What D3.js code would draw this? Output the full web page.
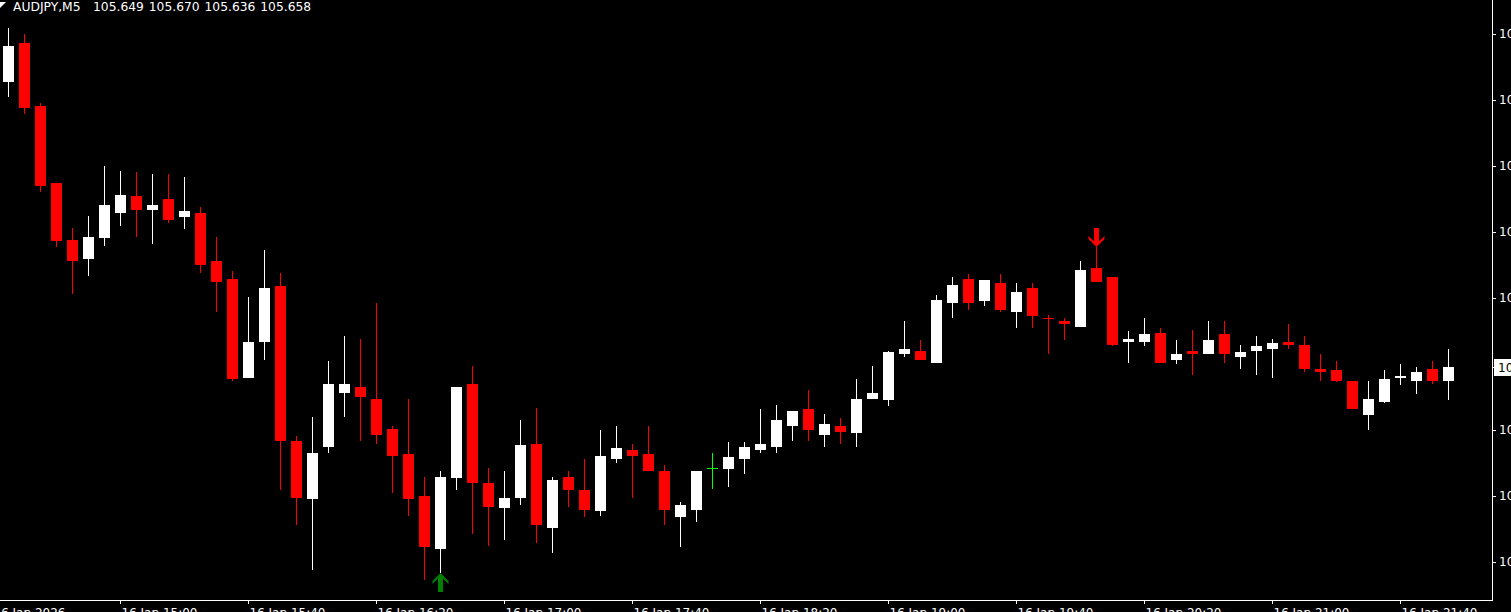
<!DOCTYPE html>
<html>
<head>
<meta charset="utf-8">
<script src="https://cdn.jsdelivr.net/npm/d3@7"></script>
<style>
  html, body { margin: 0; padding: 0; background: #000; overflow: hidden; }
  svg { display: block; }
  text { font-family: "DejaVu Sans", sans-serif; font-size: 12px; }
</style>
</head>
<body>
<div id="chart"></div>
<script>
/* AUDJPY M5 candles, 16 Jan 2026 */

var symbolTitle = "AUDJPY,M5";

// OHLC per bar, bar 0 = 14:25, one bar per 5 minutes
var opens = [105.848, 105.874, 105.832, 105.781, 105.743, 105.730, 105.744, 105.761, 105.772, 105.763,
             105.770, 105.758, 105.761, 105.729, 105.717, 105.651, 105.675, 105.712, 105.609, 105.570,
             105.605, 105.641, 105.645, 105.637, 105.617, 105.600, 105.572, 105.537, 105.584, 105.647,
             105.581, 105.564, 105.571, 105.607, 105.551, 105.585, 105.576, 105.562, 105.597, 105.603,
             105.600, 105.589, 105.558, 105.563, 105.591, 105.590, 105.597, 105.603, 105.605, 105.619,
             105.630, 105.613, 105.619, 105.614, 105.637, 105.636, 105.667, 105.669, 105.661, 105.701,
             105.717, 105.702, 105.714, 105.695, 105.711, 105.691, 105.689, 105.685, 105.724, 105.718,
             105.675, 105.675, 105.681, 105.663, 105.669, 105.667, 105.680, 105.665, 105.669, 105.670,
             105.675, 105.673, 105.657, 105.656, 105.649, 105.626, 105.635, 105.651, 105.649, 105.657,
             105.649];
var highs = [105.884, 105.880, 105.834, 105.781, 105.751, 105.759, 105.792, 105.789, 105.788, 105.787,
             105.787, 105.785, 105.765, 105.745, 105.722, 105.705, 105.736, 105.721, 105.612, 105.625,
             105.662, 105.679, 105.677, 105.701, 105.619, 105.637, 105.585, 105.589, 105.645, 105.659,
             105.591, 105.589, 105.623, 105.631, 105.585, 105.589, 105.597, 105.616, 105.619, 105.607,
             105.619, 105.593, 105.568, 105.589, 105.601, 105.608, 105.608, 105.630, 105.633, 105.629,
             105.643, 105.627, 105.624, 105.650, 105.659, 105.669, 105.689, 105.676, 105.706, 105.718,
             105.720, 105.716, 105.720, 105.714, 105.714, 105.693, 105.691, 105.729, 105.738, 105.718,
             105.682, 105.691, 105.684, 105.676, 105.683, 105.689, 105.689, 105.673, 105.679, 105.677,
             105.687, 105.679, 105.667, 105.662, 105.649, 105.649, 105.656, 105.660, 105.658, 105.662,
             105.670];
var lows = [105.838, 105.827, 105.775, 105.738, 105.707, 105.719, 105.739, 105.752, 105.745, 105.740,
            105.754, 105.750, 105.721, 105.695, 105.649, 105.651, 105.663, 105.576, 105.553, 105.523,
            105.601, 105.625, 105.609, 105.607, 105.574, 105.559, 105.516, 105.521, 105.576, 105.547,
            105.539, 105.543, 105.566, 105.541, 105.534, 105.565, 105.558, 105.559, 105.594, 105.571,
            105.589, 105.553, 105.538, 105.555, 105.577, 105.578, 105.587, 105.601, 105.601, 105.609,
            105.609, 105.605, 105.607, 105.605, 105.637, 105.632, 105.665, 105.663, 105.661, 105.691,
            105.696, 105.699, 105.695, 105.684, 105.684, 105.667, 105.676, 105.685, 105.715, 105.672,
            105.661, 105.672, 105.661, 105.660, 105.653, 105.667, 105.661, 105.657, 105.653, 105.651,
            105.670, 105.655, 105.649, 105.648, 105.630, 105.616, 105.634, 105.646, 105.640, 105.647,
            105.636];
var closes = [105.872, 105.831, 105.779, 105.742, 105.729, 105.745, 105.766, 105.773, 105.763, 105.766,
              105.756, 105.762, 105.726, 105.715, 105.650, 105.675, 105.711, 105.609, 105.571, 105.601,
              105.647, 105.647, 105.638, 105.613, 105.599, 105.570, 105.538, 105.585, 105.645, 105.581,
              105.565, 105.571, 105.606, 105.553, 105.583, 105.576, 105.563, 105.599, 105.604, 105.599,
              105.589, 105.563, 105.566, 105.589, 105.591, 105.598, 105.605, 105.607, 105.623, 105.629,
              105.616, 105.620, 105.615, 105.637, 105.641, 105.668, 105.670, 105.663, 105.703, 105.713,
              105.701, 105.716, 105.696, 105.708, 105.692, 105.690, 105.687, 105.723, 105.715, 105.673,
              105.677, 105.680, 105.661, 105.667, 105.667, 105.676, 105.667, 105.668, 105.672, 105.674,
              105.673, 105.657, 105.655, 105.649, 105.630, 105.637, 105.650, 105.652, 105.655, 105.649,
              105.658];

// signal arrows (bar index)
var buySignals = [27];
var sellSignals = [68];

// price axis labels
var priceTicks = [105.880, 105.836, 105.792, 105.748, 105.704, 105.660, 105.616, 105.572, 105.528];

// time axis: bar index of each tick and its label
var timeTickBars = [-1, 7, 15, 23, 31, 39, 47, 55, 63, 71, 79, 87];
var timeTickLabels = ["16 Jan 2026", "16 Jan 15:00", "16 Jan 15:40", "16 Jan 16:20", "16 Jan 17:00",
                      "16 Jan 17:40", "16 Jan 18:20", "16 Jan 19:00", "16 Jan 19:40", "16 Jan 20:20",
                      "16 Jan 21:00", "16 Jan 21:40"];

var width = 1511, height = 612;
var plotRight = 1492, plotBottom = 600;

var bull = "#ffffff", bear = "#ff0000", doji = "#00ff00";

var svg = d3.select("#chart")
            .append("svg")
            .attr("width", width)
            .attr("height", height)
            .style("background", "#000");

var x = d3.scaleLinear()
          .domain([0, opens.length - 1])
          .range([8, 1448]);

var y = d3.scaleLinear()
          .domain([105.5027, 105.9027])
          .range([plotBottom, 0]);

var bars = opens.map(function(o, i) {
    return {i: i, o: o, h: highs[i], l: lows[i], c: closes[i]};
});

var colorOf = function(d) {
    if (d.c > d.o) return bull;
    if (d.c < d.o) return bear;
    return doji;
};

var candles = svg.append("g")
    .attr("class", "candles")
    .attr("shape-rendering", "crispEdges")
    .selectAll("g")
    .data(bars)
    .enter().append("g");

// wicks
candles.append("rect")
    .attr("x", function(d) { return Math.round(x(d.i)); })
    .attr("y", function(d) { return Math.round(y(d.h)); })
    .attr("width", 1)
    .attr("height", function(d) { return Math.max(1, Math.round(y(d.l)) - Math.round(y(d.h))); })
    .style("fill", colorOf);

// bodies
candles.append("rect")
    .attr("x", function(d) { return Math.round(x(d.i)) - 5; })
    .attr("y", function(d) { return Math.round(y(Math.max(d.o, d.c))); })
    .attr("width", 11)
    .attr("height", function(d) {
        return Math.max(1, Math.round(y(Math.min(d.o, d.c))) - Math.round(y(Math.max(d.o, d.c))));
    })
    .style("fill", colorOf);

// arrows: thick chevron with a stem, tip at (0,0) pointing up
var arrowPath = "M0,0 L8,8 L8,11 L2.5,5.5 L2.5,19 L-2.5,19 L-2.5,5.5 L-8,11 L-8,8 Z";

svg.append("g")
    .selectAll("path")
    .data(buySignals)
    .enter().append("path")
    .attr("d", arrowPath)
    .attr("transform", function(i) { return "translate(" + (Math.round(x(i)) + 0.5) + "," + Math.round(y(lows[i])) + ")"; })
    .style("fill", "#008000");

svg.append("g")
    .selectAll("path")
    .data(sellSignals)
    .enter().append("path")
    .attr("d", arrowPath)
    .attr("transform", function(i) { return "translate(" + (Math.round(x(i)) + 0.5) + "," + Math.round(y(highs[i])) + ") scale(1,-1)"; })
    .style("fill", "#ff0000");

// frame
svg.append("line")
    .attr("x1", plotRight + 0.5).attr("x2", plotRight + 0.5)
    .attr("y1", 0).attr("y2", plotBottom + 1)
    .style("stroke", "#fff");
svg.append("line")
    .attr("x1", 0).attr("x2", plotRight + 1)
    .attr("y1", plotBottom + 0.5).attr("y2", plotBottom + 0.5)
    .style("stroke", "#fff");

var last = closes[closes.length - 1];

// price axis (the label under the current price marker is hidden by it)
var yAxis = svg.append("g")
    .attr("transform", "translate(" + plotRight + ",0)")
    .call(d3.axisRight(y)
            .tickValues(priceTicks.filter(function(p) { return Math.abs(y(p) - y(last)) > 9; }))
            .tickFormat(d3.format(".3f")).tickSize(4).tickPadding(3));
yAxis.select(".domain").remove();
yAxis.selectAll("line").style("stroke", "#fff");
yAxis.selectAll("text")
    .style("fill", "#fff")
    .style("font-family", "DejaVu Sans")
    .style("font-size", "12px");

// time axis
var xAxis = svg.append("g")
    .attr("transform", "translate(0," + plotBottom + ")")
    .call(d3.axisBottom(x).tickValues(timeTickBars)
            .tickFormat(function(d, i) { return timeTickLabels[i]; })
            .tickSize(4).tickPadding(4));
xAxis.select(".domain").remove();
xAxis.selectAll("line").style("stroke", "#fff");
xAxis.selectAll("text")
    .attr("text-anchor", "start")
    .attr("dx", 1)
    .style("fill", "#fff")
    .style("font-family", "DejaVu Sans")
    .style("font-size", "12px");

// current price marker
svg.append("line")
    .attr("x1", plotRight).attr("x2", plotRight + 4)
    .attr("y1", Math.round(y(last)) + 0.5).attr("y2", Math.round(y(last)) + 0.5)
    .style("stroke", "#fff");
svg.append("rect")
    .attr("x", plotRight + 2)
    .attr("y", Math.round(y(last)) - 8)
    .attr("width", 30)
    .attr("height", 17)
    .style("fill", "#fff");
svg.append("text")
    .attr("x", plotRight + 6)
    .attr("y", Math.round(y(last)) + 1)
    .attr("dominant-baseline", "middle")
    .style("fill", "#000")
    .text(d3.format(".3f")(last));

// header
svg.append("path")
    .attr("d", "M0,2 L6,2 L0,8 Z")
    .style("fill", "#fff");
svg.append("text")
    .attr("x", 13)
    .attr("y", 11)
    .style("fill", "#fff")
    .style("font-size", "12.3px")
    .text(symbolTitle);
svg.append("text")
    .attr("x", 93)
    .attr("y", 11)
    .style("fill", "#fff")
    .style("font-size", "12.3px")
    .style("word-spacing", "1px")
    .text([opens[90], highs[90], lows[90], closes[90]].map(d3.format(".3f")).join(" "));
</script>
</body>
</html>
